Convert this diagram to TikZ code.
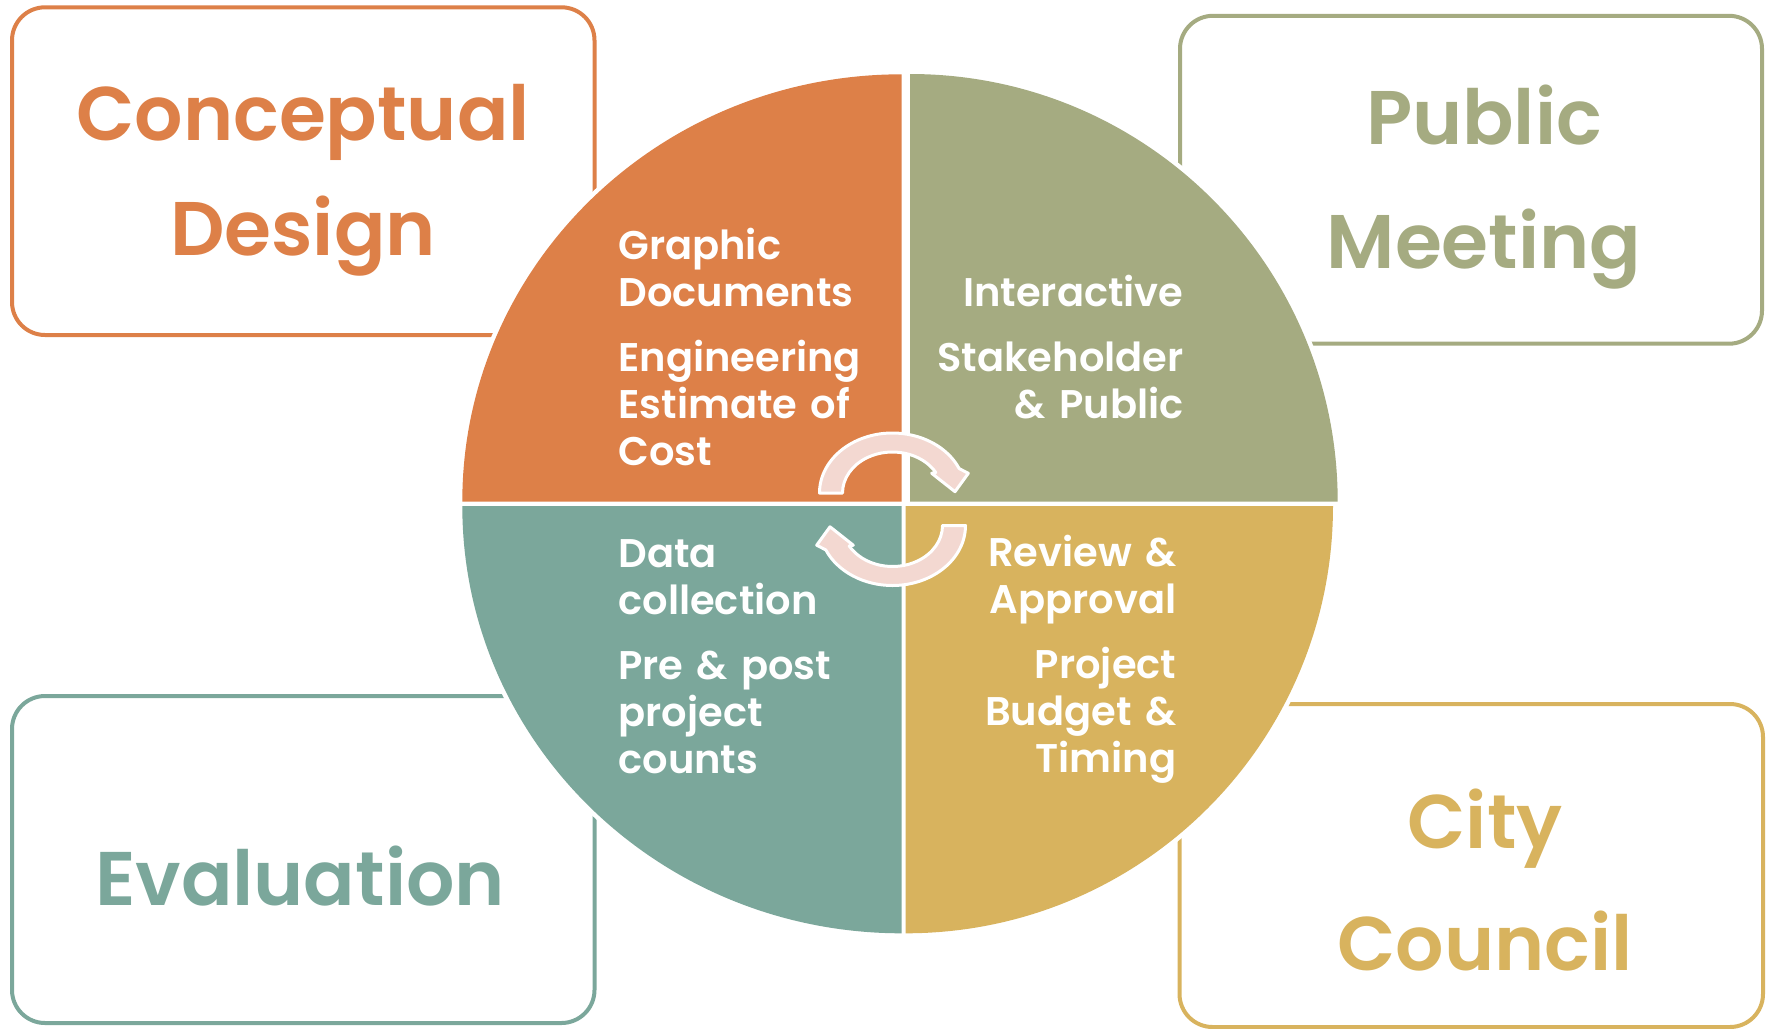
\documentclass[tikz,border=0pt]{standalone}
\usepackage{fontspec}
\setmainfont{Poppins}[BoldFont=Poppins SemiBold]

\definecolor{designorange}{HTML}{DD8048}
\definecolor{meetinggreen}{HTML}{A5AB81}
\definecolor{evalteal}{HTML}{7BA79B}
\definecolor{councilgold}{HTML}{D8B35E}
\definecolor{arrowpink}{HTML}{F3D8D1}

\tikzset{
	stagebox/.style={line width=2pt, rounded corners=16.5pt},
	stagetitle/.style={font=\fontsize{38pt}{57.5pt}\selectfont\bfseries, text width=300pt, align=center, anchor=base, inner sep=0pt},
	stagenote/.style={font=\fontsize{20pt}{23.5pt}\selectfont\bfseries, text=white, text width=160pt, inner sep=0pt},
	halo/.style={draw=white, line width=4.5pt},
	cyclearrow/.style={fill=arrowpink, draw=white, line width=1.5pt, line join=round}}

\begin{document}
\begin{tikzpicture}[x=0.5pt,y=0.5pt,yscale=-1,xscale=1]
	\useasboundingbox (0,0) rectangle (1769,1029);

	%Shape: Rounded Rect [Conceptual Design]
	\draw[stagebox, draw=designorange] (12,7.3) rectangle (594.5,335);
	%Shape: Rounded Rect [Public Meeting]
	\draw[stagebox, draw=meetinggreen] (1180,15.8) rectangle (1762,343.7);
	%Shape: Rounded Rect [Evaluation]
	\draw[stagebox, draw=evalteal] (12,696) rectangle (594.5,1023);
	%Shape: Rounded Rect [City Council]
	\draw[stagebox, draw=councilgold] (1179.5,704) rectangle (1763,1027);

	% Text Node
	\draw (303,140) node[stagetitle, text=designorange] (concept) {Conceptual\\Design};
	% Text Node
	\draw (1484,144.4) node[stagetitle, text=meetinggreen] (meeting) {Public\\[4.5pt]Meeting};
	% Text Node
	\draw (300,905) node[stagetitle, text=evalteal] (evaluation) {Evaluation};
	% Text Node
	\draw (1485,848) node[stagetitle, text=councilgold] (council) {City\\[3.5pt]Council};

	%Arcs: white rim round the circle
	\draw[halo] (462.3,501.7) arc[start angle=180, end angle=270, x radius=439.4, y radius=427.4];
	\draw[halo] (910,74) arc[start angle=270, end angle=360, radius=427.7];
	\draw[halo] (1333,506) arc[start angle=0, end angle=90, radius=427.3];
	\draw[halo] (901.7,933.3) arc[start angle=90, end angle=180, x radius=439.4, y radius=427.3];

	%Shape: Pie [top left]
	\fill[designorange] (901.7,501.7) -- (462.3,501.7) arc[start angle=180, end angle=270, x radius=439.4, y radius=427.4] -- cycle;
	%Shape: Pie [top right]
	\fill[meetinggreen] (910,501.7) -- (910,74) arc[start angle=270, end angle=360, radius=427.7] -- cycle;
	%Shape: Pie [bottom right]
	\fill[councilgold] (905.7,506) -- (1333,506) arc[start angle=0, end angle=90, radius=427.3] -- cycle;
	%Shape: Pie [bottom left]
	\fill[evalteal] (901.7,506) -- (901.7,933.3) arc[start angle=90, end angle=180, x radius=439.4, y radius=427.3] -- cycle;

	% Text Node
	\draw (618,259.5) node[stagenote, anchor=base west, align=left] (designnote) {Graphic\\Documents\\[9pt]Engineering\\Estimate of\\Cost};
	% Text Node
	\draw (1184,306.8) node[stagenote, anchor=base east, align=right] (meetingnote) {Interactive\\[9pt]Stakeholder\\\& Public};
	% Text Node
	\draw (618,567.4) node[stagenote, anchor=base west, align=left] (evalnote) {Data\\collection\\[9pt]Pre \& post\\project\\counts};
	% Text Node
	\draw (1176.7,566) node[stagenote, anchor=base east, align=right] (councilnote) {Review \&\\Approval\\[9pt]Project\\Budget \&\\Timing};

	%Shape: Circular Arrow [upper]
	\begin{scope}[shift={(892.5,493)}]
		\filldraw[cyclearrow] (-73,0) arc[start angle=180, end angle=336, x radius=73, y radius=60] -- (75.8,-19.7) -- (62.5,-1.3) -- (39.2,-19.7) -- (43.3,-20.5) arc[start angle=330, end angle=180, x radius=50, y radius=41] -- cycle;
	\end{scope}
	%Shape: Circular Arrow [lower]
	\begin{scope}[shift={(892.5,525.5)}, rotate=180]
		\filldraw[cyclearrow] (-73,0) arc[start angle=180, end angle=336, x radius=73, y radius=60] -- (75.8,-19.7) -- (62.5,-1.3) -- (39.2,-19.7) -- (43.3,-20.5) arc[start angle=330, end angle=180, x radius=50, y radius=41] -- cycle;
	\end{scope}

\end{tikzpicture}
\end{document}
